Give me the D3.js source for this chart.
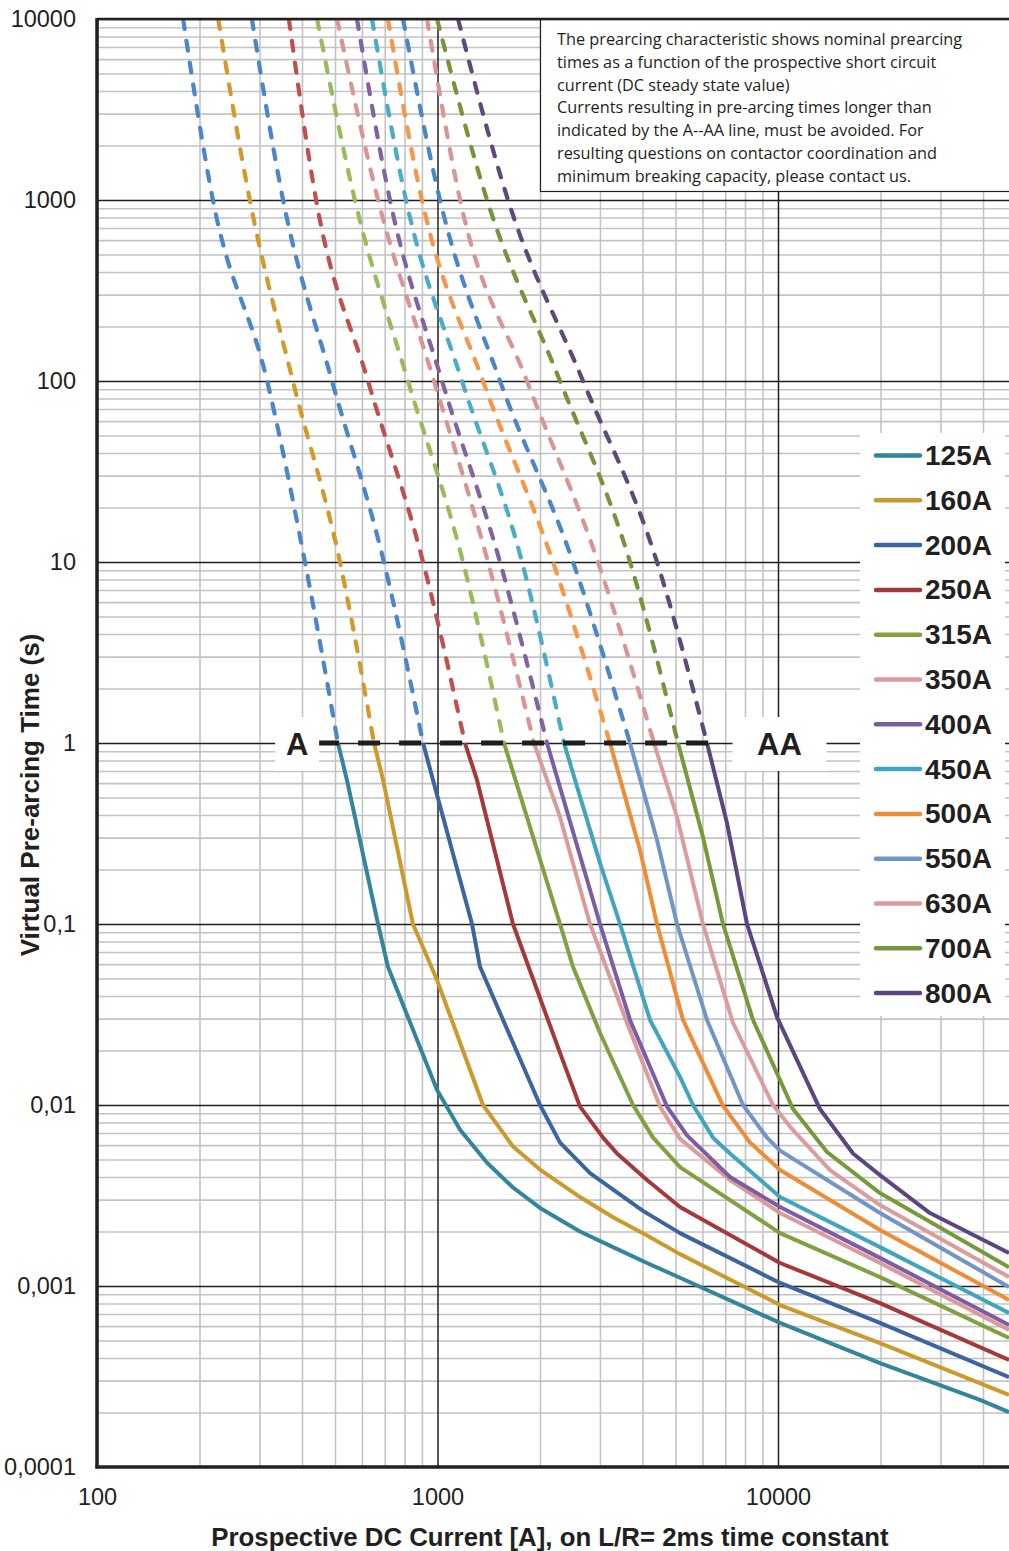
<!DOCTYPE html>
<html>
<head>
<meta charset="utf-8">
<script src="https://cdnjs.cloudflare.com/ajax/libs/d3/7.8.5/d3.min.js"></script>
<style>
body { margin: 0; background: #fff; }
svg { display: block; }
.tick text { font-family: "Liberation Sans", Arial, sans-serif; }
</style>
</head>
<body>
<svg id="chart" width="1009" height="1551"></svg>
<script>
// fuse ratings and colours
var ratings = ["125A", "160A", "200A", "250A", "315A", "350A", "400A", "450A", "500A", "550A", "630A", "700A", "800A"];
var lineColors = ["#31859c", "#cc9a2b", "#3b65a0", "#a5393a", "#82a040", "#dd9a9a", "#7a5ea5", "#40a5bf", "#f08c36", "#7295c8", "#dc9c9c", "#769a3a", "#5b4682"];
var dashColors = ["#4a86c8", "#d19a2a", "#4a86c8", "#c0504d", "#9bbb59", "#d99594", "#8064a2", "#4bacc6", "#f79646", "#4a86c8", "#d99594", "#77933c", "#5f497a"];

// dashed part (t >= 1 s): current read at each time
var dashTimes = [10000, 1000, 100, 10, 1];
var dashCurrents = [
  [179, 219, 316, 408, 510],
  [227, 281, 376, 517, 651],
  [285, 352, 490, 696, 907],
  [366, 440, 625, 907, 1204],
  [443, 572, 819, 1188, 1568],
  [507, 669, 977, 1407, 1920],
  [580, 725, 1031, 1526, 2097],
  [642, 808, 1180, 1771, 2352],
  [715, 900, 1360, 2184, 3211],
  [792, 1017, 1526, 2500, 3676],
  [932, 1165, 1831, 2960, 4323],
  [997, 1398, 2290, 3676, 5086],
  [1149, 1611, 2675, 4412, 6187]
];

// solid part (t <= 1 s): [current A, time s]
var s125 = [[510,1],[542,0.625],[669,0.1],[715,0.058],[997,0.0121],[1165,0.0073],[1398,0.0048],[1666,0.0035],[2000,0.0027],[2621,0.0020],[3277,0.00164],[4124,0.00134],[5155,0.00111],[10140,0.000625],[19930,0.000375],[39200,0.000235],[47690,0.000201]];
var s160 = [[651,1],[692,0.625],[847,0.1],[997,0.049],[1360,0.0100],[1666,0.0059],[2000,0.0044],[2621,0.0031],[3277,0.0024],[4124,0.0019],[5155,0.0015],[10140,0.000785],[19930,0.000484],[47690,0.00025]];
var s200 = [[907,1],[970,0.625],[1263,0.1],[1333,0.058],[2000,0.0100],[2290,0.0062],[2805,0.0042],[4013,0.0026],[5155,0.00196],[10140,0.00104],[19930,0.000625],[47690,0.000314]];
var s250 = [[1204,1],[1306,0.625],[1666,0.1],[2290,0.0194],[2621,0.0098],[3063,0.0066],[3367,0.0054],[4124,0.00385],[5155,0.00273],[10140,0.00134],[19930,0.000805],[47690,0.00039]];
var s315 = [[1568,1],[2290,0.1],[2500,0.058],[3001,0.025],[3752,0.0100],[4295,0.0066],[5155,0.00454],[10140,0.00196],[19930,0.00112],[47690,0.000516]];
var s350 = [[1920,1],[2097,0.625],[2290,0.39],[2805,0.1],[3602,0.0284],[4503,0.0098],[5155,0.0065],[7228,0.00385],[10140,0.00253],[19930,0.00134],[47690,0.000571]];
var s400 = [[2097,1],[3001,0.1],[3676,0.0295],[4721,0.0098],[5404,0.0068],[7228,0.0040],[10140,0.00273],[19930,0.00143],[47690,0.000609]];
var s450 = [[2352,1],[3001,0.217],[3436,0.1],[4209,0.0295],[5155,0.0143],[5628,0.0100],[6443,0.0066],[7228,0.0054],[10140,0.0031],[19930,0.00164],[47690,0.000709]];
var s500 = [[3211,1],[3933,0.256],[4412,0.1],[5260,0.0295],[6894,0.0099],[8275,0.0062],[10140,0.00437],[19930,0.00204],[47690,0.000837]];
var s550 = [[3676,1],[4412,0.291],[5052,0.1],[6187,0.0295],[7892,0.0100],[9283,0.0066],[10140,0.0056],[19930,0.00253],[47690,0.000987]];
var s630 = [[4323,1],[5052,0.39],[6021,0.1],[7376,0.0284],[9667,0.0100],[10840,0.0076],[14210,0.00437],[19930,0.0028],[47690,0.00112]];
var s700 = [[5086,1],[6021,0.302],[6894,0.1],[8445,0.0295],[11070,0.0095],[13930,0.0055],[19930,0.00326],[47690,0.00127]];
var s800 = [[6187,1],[7083,0.361],[8110,0.1],[9930,0.0306],[13280,0.0095],[16610,0.0054],[19930,0.0041],[27950,0.00253],[47690,0.00152]];
var solidCurves = [s125, s160, s200, s250, s315, s350, s400, s450, s500, s550, s630, s700, s800];

// A--AA limit line at 1 s
var aaLine = [[443, 1], [6272, 1]];
var aaLabels = [["A", 387], ["AA", 10100]];

// axis ticks
var yTicks = [10000, 1000, 100, 10, 1, 0.1, 0.01, 0.001, 0.0001];
var yTickLabels = ["10000", "1000", "100", "10", "1", "0,1", "0,01", "0,001", "0,0001"];
var xTicks = [100, 1000, 10000];
var xTickLabels = ["100", "1000", "10000"];

var noteLines = [
  "The prearcing characteristic shows nominal prearcing",
  "times as a function of the prospective short circuit",
  "current (DC steady state value)",
  "Currents resulting in pre-arcing times longer than",
  "indicated by the A--AA line, must be avoided. For",
  "resulting questions on contactor coordination and",
  "minimum breaking capacity, please contact us."
];

(function() {
  var svg = d3.select('#chart');
  var plotLeft = 97, plotTop = 19, plotRight = 1009, plotBottom = 1467;
  var fontArial = '"Liberation Sans", Arial, sans-serif';

  var x = d3.scaleLog().domain([100, 50000]).range([97, 1016]);
  var y = d3.scaleLog().domain([0.0001, 10000]).range([plotBottom, plotTop]);

  // minor grid positions 2..9 per decade
  var xMinor = [], yMinor = [];
  [100, 1000, 10000].forEach(function(d) {
    for (var k = 2; k <= 9; k++) xMinor.push(d * k);
  });
  [0.0001, 0.001, 0.01, 0.1, 1, 10, 100, 1000].forEach(function(d) {
    for (var k = 2; k <= 9; k++) yMinor.push(+(d * k).toPrecision(3));
  });

  svg.append('defs').append('clipPath').attr('id', 'plotclip')
    .append('rect').attr('x', plotLeft).attr('y', plotTop)
    .attr('width', plotRight - plotLeft).attr('height', plotBottom - plotTop);

  var grid = svg.append('g').attr('clip-path', 'url(#plotclip)');

  function gridStyle(color, w) {
    return function(g) {
      g.select('.domain').remove();
      g.selectAll('line').attr('stroke', color).attr('stroke-width', w);
    };
  }

  grid.append('g')
    .attr('transform', 'translate(' + plotLeft + ',0)')
    .call(d3.axisLeft(y).tickValues(yMinor).tickSize(-(1016 - plotLeft)).tickFormat(''))
    .call(gridStyle('#c3c3c6', 1.6));

  grid.append('g')
    .attr('transform', 'translate(0,' + plotBottom + ')')
    .call(d3.axisBottom(x).tickValues(xMinor).tickSize(-(plotBottom - plotTop)).tickFormat(''))
    .call(gridStyle('#c3c3c6', 1.6));

  grid.append('g')
    .attr('transform', 'translate(' + plotLeft + ',0)')
    .call(d3.axisLeft(y).tickValues(yTicks).tickSize(-(1016 - plotLeft)).tickFormat(''))
    .call(gridStyle('#231f20', 1.5));

  grid.append('g')
    .attr('transform', 'translate(0,' + plotBottom + ')')
    .call(d3.axisBottom(x).tickValues(xTicks).tickSize(-(plotBottom - plotTop)).tickFormat(''))
    .call(gridStyle('#231f20', 1.5));

  // curves: dashed part smoothed, solid part as straight segments between read points
  var dashLine = d3.line()
    .x(function(d) { return x(d[0]); })
    .y(function(d) { return y(d[1]); })
    .curve(d3.curveMonotoneX);

  var solidLine = d3.line()
    .x(function(d) { return x(d[0]); })
    .y(function(d) { return y(d[1]); });

  var curves = svg.append('g').attr('clip-path', 'url(#plotclip)');

  ratings.forEach(function(r, i) {
    var dashed = dashCurrents[i].map(function(c, j) { return [c, dashTimes[j]]; });
    curves.append('path')
      .attr('d', dashLine(dashed))
      .attr('fill', 'none')
      .attr('stroke', dashColors[i])
      .attr('stroke-width', 4.2)
      .attr('stroke-linecap', 'round')
      .attr('stroke-dasharray', '10,12');
  });

  ratings.forEach(function(r, i) {
    curves.append('path')
      .attr('d', solidLine(solidCurves[i]))
      .attr('fill', 'none')
      .attr('stroke', lineColors[i])
      .attr('stroke-width', 4)
      .attr('stroke-linejoin', 'round');
  });

  // A--AA line
  svg.append('path')
    .attr('d', solidLine(aaLine))
    .attr('stroke', '#1e1c1d')
    .attr('stroke-width', 5)
    .attr('stroke-dasharray', '22,19');

  aaLabels.forEach(function(a) {
    var cx = x(a[1]), cy = y(1);
    var w = a[0].length === 1 ? 44 : 94;
    svg.append('rect')
      .attr('x', cx - w / 2).attr('y', cy - 26)
      .attr('width', w).attr('height', 54)
      .attr('fill', '#fff');
    svg.append('text')
      .attr('x', cx).attr('y', cy + 1)
      .attr('text-anchor', 'middle')
      .attr('dominant-baseline', 'central')
      .style('font-family', fontArial)
      .style('font-weight', 'bold')
      .style('font-size', '31px')
      .attr('fill', '#231f20')
      .text(a[0]);
  });

  // note box
  svg.append('rect')
    .attr('x', 540.5).attr('y', 19.5)
    .attr('width', 500).attr('height', 172)
    .attr('fill', '#fff')
    .attr('stroke', '#231f20')
    .attr('stroke-width', 1.2);

  svg.append('g').selectAll('text')
    .data(noteLines)
    .join('text')
    .attr('x', 557)
    .attr('y', function(d, i) { return 45 + i * 22.8; })
    .style('font-family', '"Open Sans", sans-serif')
    .style('font-size', '16.3px')
    .attr('fill', '#231f20')
    .text(function(d) { return d; });

  // legend
  svg.append('rect')
    .attr('x', 860).attr('y', 433)
    .attr('width', 145).attr('height', 583)
    .attr('fill', '#fff');

  var legend = svg.append('g').selectAll('g')
    .data(ratings)
    .join('g')
    .attr('transform', function(d, i) { return 'translate(0,' + (455.5 + i * 44.8) + ')'; });

  legend.append('line')
    .attr('x1', 876).attr('x2', 920)
    .attr('stroke', function(d, i) { return lineColors[i]; })
    .attr('stroke-width', 4.5)
    .attr('stroke-linecap', 'round');

  legend.append('text')
    .attr('x', 925)
    .attr('dominant-baseline', 'central')
    .style('font-family', fontArial)
    .style('font-weight', 'bold')
    .style('font-size', '28px')
    .attr('fill', '#231f20')
    .text(function(d) { return d; });

  // axes
  svg.append('g')
    .attr('transform', 'translate(' + plotLeft + ',0)')
    .call(d3.axisLeft(y).tickValues(yTicks).tickSize(0).tickPadding(21)
      .tickFormat(function(d, i) { return yTickLabels[i]; }))
    .call(function(g) {
      g.select('.domain').remove();
      g.selectAll('text').style('font-size', '23.5px').attr('fill', '#231f20');
    });

  svg.append('g')
    .attr('transform', 'translate(0,' + plotBottom + ')')
    .call(d3.axisBottom(x).tickValues(xTicks).tickSize(0).tickPadding(21)
      .tickFormat(function(d, i) { return xTickLabels[i]; }))
    .call(function(g) {
      g.select('.domain').remove();
      g.selectAll('text').style('font-size', '23.5px').attr('fill', '#231f20');
    });

  // frame: thick left/bottom, top border
  svg.append('line').attr('x1', plotLeft).attr('x2', plotRight).attr('y1', plotTop).attr('y2', plotTop)
    .attr('stroke', '#231f20').attr('stroke-width', 2.5);
  svg.append('line').attr('x1', plotLeft).attr('x2', plotLeft).attr('y1', plotTop - 1).attr('y2', plotBottom + 1.5)
    .attr('stroke', '#231f20').attr('stroke-width', 3.5);
  svg.append('line').attr('x1', plotLeft - 1.5).attr('x2', plotRight).attr('y1', plotBottom).attr('y2', plotBottom)
    .attr('stroke', '#231f20').attr('stroke-width', 3.5);

  // axis titles
  svg.append('text')
    .attr('transform', 'translate(30,795) rotate(-90)')
    .attr('text-anchor', 'middle')
    .attr('dominant-baseline', 'central')
    .style('font-family', fontArial)
    .style('font-weight', 'bold')
    .style('font-size', '26px')
    .attr('fill', '#231f20')
    .text('Virtual Pre-arcing Time (s)');

  svg.append('text')
    .attr('x', 550).attr('y', 1546)
    .attr('text-anchor', 'middle')
    .style('font-family', fontArial)
    .style('font-weight', 'bold')
    .style('font-size', '25.8px')
    .attr('fill', '#231f20')
    .text('Prospective DC Current [A], on L/R= 2ms time constant');
}());
</script>
</body>
</html>
